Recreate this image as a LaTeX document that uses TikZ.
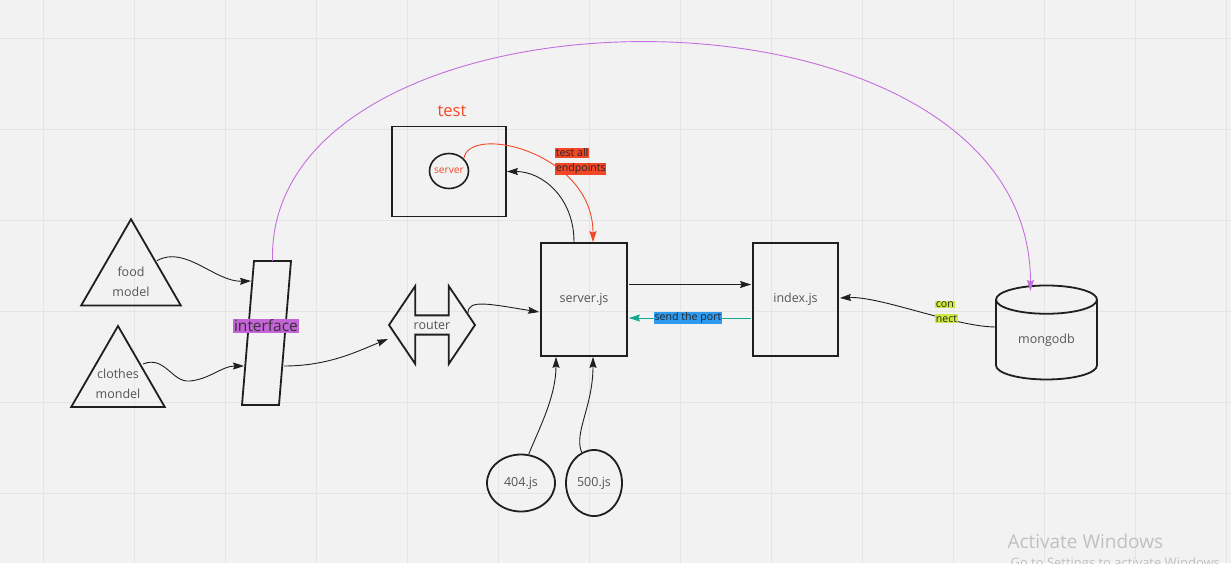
\documentclass[tikz,border=0pt]{standalone}
\usepackage{fontspec}
\setmainfont{Open Sans}
\usetikzlibrary{positioning,arrows.meta,shapes.geometric,shapes.arrows,calc}
\definecolor{bggray}{RGB}{242,242,242}
\definecolor{gridgray}{RGB}{228,228,228}
\definecolor{notered}{RGB}{242,71,38}
\definecolor{notepurple}{RGB}{197,100,216}
\definecolor{linepurple}{RGB}{196,110,224}
\definecolor{noteblue}{RGB}{45,155,240}
\definecolor{lineteal}{RGB}{20,168,142}
\definecolor{notelime}{RGB}{206,231,65}
\definecolor{textgray}{RGB}{85,85,85}
\definecolor{wmgray}{RGB}{192,192,192}
\colorlet{strokedark}{black!88}
\setlength{\fboxsep}{0.7pt}

\begin{document}
\begin{tikzpicture}[x=1pt,y=-1pt,
    every node/.style={font=\fontsize{12.5}{19.5}\selectfont,text=textgray},
    shapebox/.style={draw=strokedark,line width=1.8pt,inner sep=0pt},
    conn/.style={-{Stealth[length=11pt,width=7pt,inset=1.5pt]},line width=0.9pt,draw=strokedark},
    notetag/.style={font=\fontsize{10.6}{15.5}\selectfont,text=black!85,inner sep=0pt,align=left}]
        \useasboundingbox (0,0) rectangle (1231,563);
        \fill[bggray] (0,0) rectangle (1231,563);
        \foreach \gx in {43,134,...,1226} \draw[gridgray,line width=1pt] (\gx,0)--(\gx,563);
        \foreach \gy in {38,129,...,493} \draw[gridgray,line width=1pt] (0,\gy)--(1231,\gy);
        % models and interface
        \node[shapebox,regular polygon,regular polygon sides=3,minimum size=115pt] (food) at (131,276.7) {};
        \node[align=center] (foodtxt) at (131,282) {food\\model};
        \node[shapebox,regular polygon,regular polygon sides=3,minimum size=108pt] (clothes) at (118,380) {};
        \node[align=center] (clothestxt) at (118,384) {clothes\\mondel};
        \coordinate (iface) at (266.5,333);
        \draw[shapebox,line join=miter] ([shift={(-24.5,72)}]iface) -- ([shift={(-12.5,-72)}]iface) -- ([shift={(24.5,-72)}]iface) -- ([shift={(12.5,72)}]iface) -- cycle;
        \node[fill=notepurple,text=black!80,font=\fontsize{15.5}{18}\selectfont,inner sep=1pt] (ifacelbl) at (266,326) {interface};
        \node[shapebox,double arrow,double arrow head extend=15.5pt,double arrow tip angle=112,minimum height=86pt,minimum width=78pt] (router) at (432,325) {router};
        % servers
        \node[shapebox,minimum width=114pt,minimum height=90pt] (testbox) at (449,171.5) {};
        \node[text=notered,font=\fontsize{16.5}{20}\selectfont] (testlbl) at (452,111) {test};
        \node[draw=strokedark,line width=1.6pt,ellipse,minimum width=39pt,minimum height=35pt,inner sep=0pt,
          label={[text=notered,font=\fontsize{10.2}{12}\selectfont]center:server}] (srv) at (449,171) {};
        \node[shapebox,minimum width=86pt,minimum height=113pt] (serverjs) at (584,299.5) {server.js};
        \node[shapebox,minimum width=85pt,minimum height=113pt] (indexjs) at (795.5,299.5) {index.js};
        \node[shapebox,cylinder,shape border rotate=90,aspect=0.5,minimum width=101pt,minimum height=94pt] (mongo) at (1046.5,340) {mongodb};
        \node[shapebox,ellipse,minimum width=68pt,minimum height=57pt] (e404) at (521,483) {404.js};
        \node[shapebox,ellipse,minimum width=56pt,minimum height=66pt] (e500) at (594,483) {500.js};
        % connectors
        \draw[conn] ([shift={(26,-16)}]food.center) .. controls +(28,-16) and +(-36,1) .. ([shift={(-15.5,-52)}]iface);
        \draw[conn] ([shift={(25,-16)}]clothes.center) .. controls (165,355) and (172,383) .. (190,381) .. controls (210,379) and (222,366) .. ([shift={(-22.5,33)}]iface);
        \draw[conn] ([shift={(17.5,33)}]iface) .. controls +(45,0) and +(-30,12) .. ([shift={(-44,14)}]router.center);
        \draw[conn] ([shift={(36,-12)}]router.center) .. controls +(0,-14) and +(-50,-8) .. ([shift={(-1,12.5)}]serverjs.west);
        \draw[conn] ([shift={(1,-15)}]serverjs.east) -- ([shift={(-1,-15)}]indexjs.west);
        \draw[conn,draw=lineteal] ([shift={(-1,18.5)}]indexjs.west) -- node[notetag,fill=noteblue,inner sep=0.8pt,xshift=-2pt] (portlbl) {send the port} ([shift={(1,18.5)}]serverjs.east);
        \draw[conn] ([shift={(-10,0)}]serverjs.north) .. controls +(0,-45) and +(35,0) .. (testbox.east);
        \draw[conn,draw=notered] (srv.40) .. controls +(5,-35) and +(0,-90) .. ([shift={(9,0)}]serverjs.north);
        \node[notetag,anchor=north west] (endlbl) at (555,148) {\colorbox{notered}{test all}\\[-1pt]\colorbox{notered}{endpoints}};
        \draw[conn] (e404.75) .. controls +(10,-25) and +(0,40) .. ([shift={(-28,0)}]serverjs.south);
        \draw[conn] (e500.112) .. controls +(-8,-20) and +(0,50) .. ([shift={(9,0)}]serverjs.south);
        \draw[conn] ([shift={(-50.5,-13)}]mongo.center) .. controls +(-40,0) and +(40,-2) .. ([shift={(1,-1.5)}]indexjs.east);
        \node[notetag,anchor=north west] (connlbl) at (935,301) {\colorbox{notelime}{con}\\[-1pt]\colorbox{notelime}{nect}};
        \draw[conn,draw=linepurple] ([shift={(6,-72)}]iface) .. controls (265,-30) and (1030,-40) .. ([shift={(-16,-49)}]mongo.center);
        % watermark
        \node[anchor=west,text=wmgray,font=\fontsize{19}{21}\selectfont] (wm) at (1004,541) {Activate Windows};
        \begin{scope}
          \clip (0,0) rectangle (1231,563);
          \node[anchor=north west,text=wmgray,font=\fontsize{13}{15}\selectfont] (wmsub) at (1007,554) {Go to Settings to activate Windows.};
        \end{scope}
      \end{tikzpicture}
\end{document}
